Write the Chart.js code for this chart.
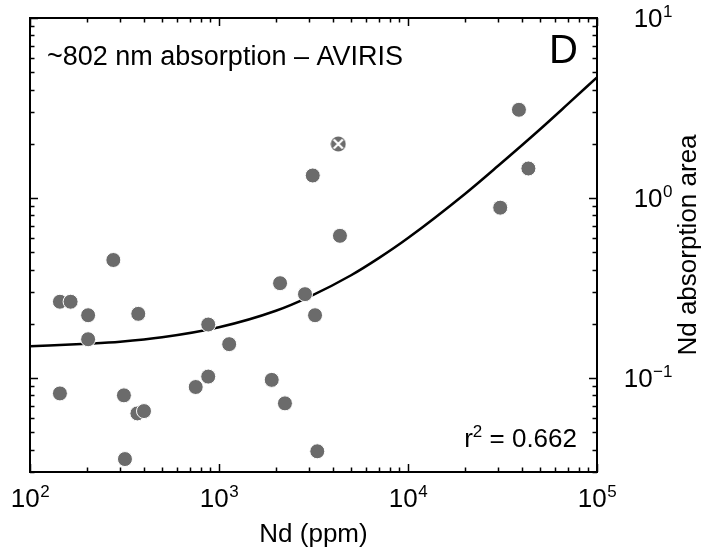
<!DOCTYPE html>
<html>
<head>
<meta charset="utf-8">
<script src="https://cdn.jsdelivr.net/npm/chart.js@4/dist/chart.umd.min.js"></script>
<style>
  html, body { margin: 0; padding: 0; background: #fff; }
  canvas { display: block; }
</style>
</head>
<body>
<canvas id="chart" width="703" height="550"></canvas>
<script>
// Measured samples (Nd ppm vs. absorption area)
const ndPpm = [144, 164, 203, 203, 276, 374, 877, 1132, 144, 314, 370, 401, 318, 753, 877, 2104, 2851, 3222, 1901, 2233, 3311, 3133, 4365, 38640, 43350, 30760];
const absorptionArea = [0.265, 0.265, 0.223, 0.164, 0.452, 0.227, 0.198, 0.154, 0.082, 0.080, 0.0635, 0.0654, 0.0354, 0.089, 0.1017, 0.336, 0.292, 0.223, 0.0975, 0.0722, 0.0391, 1.333, 0.616, 3.09, 1.458, 0.883];

// Excluded sample (marked with a cross)
const outlierNd = [4276];
const outlierArea = [1.995];

// Fit curve
const fitNd = [100, 200, 300, 500, 1000, 2000, 3000, 5000, 7000, 10000, 20000, 30000, 50000, 70000, 100000];
const fitArea = [0.150, 0.155, 0.159, 0.168, 0.191, 0.236, 0.282, 0.372, 0.463, 0.599, 1.053, 1.51, 2.41, 3.32, 4.68];

// Axis decades
const xExponents = [2, 3, 4, 5];
const yExponents = [1, 0, -1];

const FONT = '"Liberation Sans", Arial, Helvetica, sans-serif';
const GRAY = '#6b6b6b';

// crossed-circle marker for the excluded sample
function crossMarker() {
  const c = document.createElement('canvas');
  c.width = 16; c.height = 16;
  const g = c.getContext('2d');
  g.fillStyle = GRAY;
  g.beginPath();
  g.arc(8, 8, 7.5, 0, Math.PI * 2);
  g.fill();
  g.strokeStyle = '#fff';
  g.lineWidth = 2.2;
  g.beginPath();
  g.moveTo(3.5, 3.5); g.lineTo(12.5, 12.5);
  g.moveTo(12.5, 3.5); g.lineTo(3.5, 12.5);
  g.stroke();
  return c;
}

function drawPow(ctx, exp, x, baseline, align) {
  const base = '10';
  const sup = exp < 0 ? '\u2212' + Math.abs(exp) : String(exp);
  ctx.font = '26px ' + FONT;
  const wb = ctx.measureText(base).width;
  ctx.font = '17px ' + FONT;
  const ws = ctx.measureText(sup).width;
  const total = wb + ws;
  let left = x;
  if (align === 'center') left = x - total / 2;
  else if (align === 'right') left = x - total;
  ctx.textAlign = 'left';
  ctx.textBaseline = 'alphabetic';
  ctx.font = '26px ' + FONT;
  ctx.fillText(base, left, baseline);
  ctx.font = '17px ' + FONT;
  ctx.fillText(sup, left + wb + 0.5, baseline - 10);
}

const framePlugin = {
  id: 'frame',
  afterDraw(chart) {
    const ctx = chart.ctx;
    const area = chart.chartArea;
    const xs = chart.scales.x;
    const ys = chart.scales.y;
    ctx.save();
    ctx.fillStyle = '#000';
    ctx.strokeStyle = '#000';

    // inward ticks on all four sides
    ctx.lineWidth = 1.5;
    ctx.beginPath();
    for (let e = 2; e <= 5; e++) {
      for (let m = 1; m <= 9; m++) {
        const v = m * Math.pow(10, e);
        if (v > 100000) break;
        const px = Math.round(xs.getPixelForValue(v)) + 0.5;
        const len = m === 1 ? 8 : 4.5;
        ctx.moveTo(px, area.bottom); ctx.lineTo(px, area.bottom - len);
        ctx.moveTo(px, area.top); ctx.lineTo(px, area.top + len);
      }
    }
    for (let e = -2; e <= 1; e++) {
      for (let m = 1; m <= 9; m++) {
        const v = m * Math.pow(10, e);
        if (v < 0.03 - 1e-9 || v > 10 + 1e-9) continue;
        const py = Math.round(ys.getPixelForValue(v)) + 0.5;
        const len = m === 1 ? 8 : 4.5;
        ctx.moveTo(area.left, py); ctx.lineTo(area.left + len, py);
        ctx.moveTo(area.right, py); ctx.lineTo(area.right - len, py);
      }
    }
    ctx.stroke();

    // frame
    ctx.lineWidth = 2;
    ctx.strokeRect(area.left, area.top, area.right - area.left, area.bottom - area.top);

    // tick labels
    xExponents.forEach(e => drawPow(ctx, e, xs.getPixelForValue(Math.pow(10, e)), 507, 'center'));
    yExponents.forEach(e => drawPow(ctx, e, 672, ys.getPixelForValue(Math.pow(10, e)) + 9, 'right'));

    // axis titles
    ctx.font = '26px ' + FONT;
    ctx.textAlign = 'center';
    ctx.textBaseline = 'alphabetic';
    ctx.fillText('Nd (ppm)', (area.left + area.right) / 2, 542);
    ctx.save();
    ctx.translate(696, 245);
    ctx.rotate(-Math.PI / 2);
    ctx.fillText('Nd absorption area', 0, 0);
    ctx.restore();

    // annotations
    ctx.font = '27px ' + FONT;
    ctx.textAlign = 'left';
    ctx.fillText('~802 nm absorption \u2013 AVIRIS', 47, 65);
    ctx.font = '40px ' + FONT;
    ctx.textAlign = 'right';
    ctx.fillText('D', 578, 63);

    ctx.font = '26px ' + FONT;
    const tail = ' = 0.662';
    const wt = ctx.measureText(tail).width;
    ctx.fillText(tail, 577, 447);
    ctx.font = '17px ' + FONT;
    const w2 = ctx.measureText('2').width;
    ctx.fillText('2', 577 - wt, 437);
    ctx.font = '26px ' + FONT;
    ctx.fillText('r', 577 - wt - w2, 447);
    ctx.restore();
  }
};

new Chart(document.getElementById('chart'), {
  type: 'scatter',
  data: {
    datasets: [
      {
        label: 'fit',
        type: 'line',
        data: fitNd.map((x, i) => ({ x: x, y: fitArea[i] })),
        borderColor: '#000',
        borderWidth: 2.5,
        pointRadius: 0,
        fill: false,
        cubicInterpolationMode: 'monotone',
        order: 3
      },
      {
        label: 'samples',
        data: ndPpm.map((x, i) => ({ x: x, y: absorptionArea[i] })),
        backgroundColor: GRAY,
        borderColor: '#fff',
        borderWidth: 1,
        pointRadius: 7.5,
        order: 2
      },
      {
        label: 'excluded',
        data: outlierNd.map((x, i) => ({ x: x, y: outlierArea[i] })),
        pointStyle: crossMarker(),
        pointRadius: 8,
        order: 1
      }
    ]
  },
  options: {
    responsive: false,
    animation: false,
    layout: { padding: { left: 30, top: 18, right: 106, bottom: 78 } },
    plugins: {
      legend: { display: false },
      tooltip: { enabled: false }
    },
    scales: {
      x: { type: 'logarithmic', min: 100, max: 100000, display: false },
      y: { type: 'logarithmic', min: 0.03, max: 10, display: false }
    }
  },
  plugins: [framePlugin]
});
</script>
</body>
</html>
